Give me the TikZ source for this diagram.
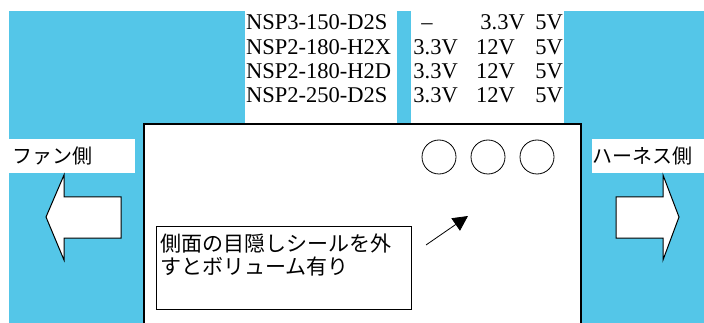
\documentclass[tikz,border=0pt]{standalone}
\usepackage{fontspec}
\newfontfamily\jpfont{Noto Sans CJK JP}
\newfontfamily\tablefont{Liberation Serif}
\usetikzlibrary{arrows.meta}
\definecolor{sky1}{RGB}{84,198,232}
\tikzstyle{modelname} = [rectangle, inner sep=0pt, anchor=base west, font=\tablefont\fontsize{22.5}{24}\selectfont]
\tikzstyle{volt} = [rectangle, inner sep=0pt, anchor=base east, font=\tablefont\fontsize{22.5}{24}\selectfont]
\tikzstyle{sidetag} = [rectangle, fill=white, inner sep=0pt, anchor=north west, minimum height=34pt, font=\jpfont\fontsize{20}{22}\selectfont]
\tikzstyle{hole} = [circle, draw, minimum size=34pt, inner sep=0pt, line width=0.8pt]
\tikzstyle{fatarrow} = [draw, fill=white, line width=1pt, line join=miter]

\begin{document}
\begin{tikzpicture}[x=1pt, y=-1pt]
	\clip (0,0) rectangle (704,323);
	% background
	\fill [sky1] (9,11) rectangle (704,330);

	% table of models and voltages
	\fill [white] (245,11) rectangle (397,123);
	\fill [white] (411,11) rectangle (564,123);
	\node [modelname] (M01) at (246,30) {NSP3-150-D2S};
	\node [modelname] (M02) at (246,55) {NSP2-180-H2X};
	\node [modelname] (M03) at (246,79) {NSP2-180-H2D};
	\node [modelname] (M04) at (246,103) {NSP2-250-D2S};
	\node [volt, anchor=base] (V11) at (427,30) {–};
	\node [volt] (V12) at (525,30) {3.3V};
	\node [volt] (V13) at (563,30) {5V};
	\node [volt] (V21) at (458,55) {3.3V};
	\node [volt] (V22) at (515,55) {12V};
	\node [volt] (V23) at (563,55) {5V};
	\node [volt] (V31) at (458,79) {3.3V};
	\node [volt] (V32) at (515,79) {12V};
	\node [volt] (V33) at (563,79) {5V};
	\node [volt] (V41) at (458,103) {3.3V};
	\node [volt] (V42) at (515,103) {12V};
	\node [volt] (V43) at (563,103) {5V};

	% unit seen from the side
	\draw [fill=white, line width=1.3pt] (144,124) rectangle (581,335);
	\node [hole] (H01) at (439,157) {};
	\node [hole] (H02) at (488,157) {};
	\node [hole] (H03) at (537,157) {};

	% side labels and arrows
	\node [sidetag, minimum width=123pt, text width=120pt, inner xsep=3pt] (fan) at (9,139) {ファン側};
	\node [sidetag, minimum width=112pt, text width=112pt] (harness) at (592,139) {ハーネス側};
	\draw [fatarrow] (121,197) -- (64,197) -- (64,175) -- (46,217) -- (64,260) -- (64,238) -- (121,238) -- cycle;
	\draw [fatarrow] (616,197) -- (663,197) -- (663,175) -- (679,217) -- (663,260) -- (663,238) -- (616,238) -- cycle;

	% note
	\node [draw, line width=1pt, rectangle, anchor=north west, minimum width=255pt, minimum height=83pt] (memo) at (156,226) {};
	\node [anchor=north west, inner sep=0pt, align=left, font=\jpfont\fontsize{21}{23}\selectfont] (memotext) at (160,234) {側面の目隠しシールを外\\すとボリューム有り};
	\coordinate (tail) at (426,245);
	\coordinate (tip) at (468,216);
	\draw [line width=0.8pt, -{Triangle[length=15pt,width=15pt]}] (tail) -- (tip);
\end{tikzpicture}
\end{document}
